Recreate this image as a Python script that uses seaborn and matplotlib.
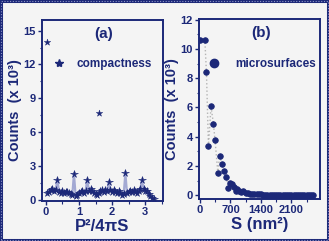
import numpy as np
import pandas as pd
import matplotlib
matplotlib.use("Agg")
import matplotlib.pyplot as plt
import seaborn as sns
from matplotlib.lines import Line2D
from matplotlib.patches import Rectangle
from matplotlib.ticker import AutoMinorLocator

# ---------------- data ----------------
# panel (a): compactness distribution (counts x 10^3)
comp_x = [0.05, 0.10, 0.15, 0.20, 0.25, 0.30, 0.35, 0.40, 0.45, 0.50,
          0.55, 0.60, 0.65, 0.70, 0.75, 0.80, 0.85, 0.90, 0.95, 1.00,
          1.05, 1.10, 1.15, 1.20, 1.25, 1.30, 1.35, 1.40, 1.45, 1.50,
          1.55, 1.60, 1.65, 1.70, 1.75, 1.80, 1.85, 1.90, 1.95, 2.00,
          2.05, 2.10, 2.15, 2.20, 2.25, 2.30, 2.35, 2.40, 2.45, 2.50,
          2.55, 2.60, 2.65, 2.70, 2.75, 2.80, 2.85, 2.90, 2.95, 3.00,
          3.05, 3.10, 3.15, 3.20, 3.25]
comp_y = [0.55, 0.70, 0.85, 0.95, 0.75, 0.90, 1.75, 0.70, 0.60, 0.75,
          0.60, 0.65, 0.70, 0.55, 0.50, 0.40, 2.30, 0.35, 0.45, 0.55,
          0.65, 0.80, 0.60, 0.75, 1.75, 0.80, 0.95, 0.75, 0.60, 0.50,
          0.40, 0.60, 0.75, 0.85, 0.70, 0.90, 0.80, 1.55, 0.85, 0.70,
          0.90, 0.70, 0.55, 0.75, 0.55, 0.40, 0.50, 2.35, 0.55, 0.65,
          0.80, 0.65, 0.85, 0.65, 0.60, 0.80, 0.95, 1.70, 0.95, 0.80,
          0.75, 0.50, 0.30, 0.15, 0.05]
comp_out_x = [0.04, 1.60]
comp_out_y = [14.0, 7.7]

# panel (b): microsurface distribution (counts x 10^3)
surf_x = [0, 113, 150, 196, 255, 309, 346, 413, 451, 512,
          564, 609, 648, 700, 740, 780, 820, 860, 900, 950,
          1000, 1050, 1100, 1150, 1200, 1250, 1300, 1350, 1400, 1450,
          1500, 1550, 1600, 1650, 1700, 1750, 1800, 1850, 1900, 1950,
          2000, 2050, 2100, 2150, 2200, 2250, 2300, 2350, 2400, 2450,
          2500, 2550, 2600]
surf_y = [10.6, 10.6, 8.4, 3.35, 6.07, 4.9, 3.8, 1.5, 2.7, 2.1,
          1.63, 1.25, 0.5, 0.85, 0.75, 0.55, 0.3, 0.45, 0.3, 0.2,
          0.25, 0.15, 0.12, 0.1, 0.08, 0.07, 0.06, 0.05, 0.05, 0.04,
          0.04, 0.03, 0.03, 0.03, 0.03, 0.02, 0.02, 0.02, 0.02, 0.02,
          0.02, 0.02, 0.02, 0.02, 0.02, 0.02, 0.02, 0.02, 0.02, 0.02,
          0.02, 0.02, 0.02]

a_yticks = [0, 3, 6, 9, 12, 15]
a_xticks = [0, 1, 2, 3]
b_yticks = [0, 2, 4, 6, 8, 10, 12]
b_xticks = [0, 700, 1400, 2100]

# ---------------- style ----------------
sns.set_theme(style="ticks")
plt.rcParams["font.family"] = ["Liberation Sans", "DejaVu Sans"]
plt.rcParams["font.weight"] = "bold"

navy = "#1c2878"
bg = "#f4f4f4"
line_a = "#a3a9d3"
line_b = "#b4b4b4"

fig = plt.figure(figsize=(3.29, 2.41), dpi=100, facecolor=bg)
ax1 = fig.add_axes([0.128, 0.166, 0.367, 0.751])
ax2 = fig.add_axes([0.605, 0.174, 0.368, 0.747])

df_a = pd.DataFrame({"x": comp_x, "y": comp_y})
df_ao = pd.DataFrame({"x": comp_out_x, "y": comp_out_y})
df_b = pd.DataFrame({"x": surf_x, "y": surf_y})

# panel (a)
sns.lineplot(data=df_a, x="x", y="y", ax=ax1, color=line_a, lw=1.6,
             sort=False, marker="*", markersize=5.5,
             markerfacecolor=navy, markeredgecolor=navy, markeredgewidth=0.4)
sns.scatterplot(data=df_ao, x="x", y="y", ax=ax1, marker="*", s=24,
                color=navy, edgecolor=navy, linewidth=0.3)
ax1.set_xlim(-0.11, 3.53)
ax1.set_ylim(-0.12, 15.95)
ax1.set_yticks(a_yticks)
ax1.set_xticks(a_xticks)
ax1.set_xlabel("P²/4πS", fontsize=12, fontweight="bold", color=navy, labelpad=1)
ax1.set_ylabel("Counts  (x 10³)", fontsize=10.5, fontweight="bold", color=navy, labelpad=1)
ax1.text(0.51, 0.925, "(a)", transform=ax1.transAxes, ha="center", va="center",
         fontsize=11, fontweight="bold", color=navy)
h1 = Line2D([], [], marker="*", ls="none", color=navy, markersize=6)
ax1.legend(handles=[h1], labels=["compactness"], loc="center left",
           bbox_to_anchor=(0.09, 0.757), frameon=False, borderpad=0,
           borderaxespad=0, handlelength=1.0, handletextpad=1.0,
           prop={"size": 8.5, "weight": "bold"}, labelcolor=navy)

# panel (b)
sns.lineplot(data=df_b, x="x", y="y", ax=ax2, color=line_b, lw=1.0, ls=":",
             sort=False)
sns.scatterplot(data=df_b, x="x", y="y", ax=ax2, marker="o", s=16,
                color=navy, edgecolor=navy, linewidth=0.6, zorder=3)
ax2.set_xlim(-20, 2760)
ax2.set_ylim(-0.27, 12.05)
ax2.set_yticks(b_yticks)
ax2.set_xticks(b_xticks)
ax2.set_xlabel("S (nm²)", fontsize=12, fontweight="bold", color=navy, labelpad=1)
ax2.set_ylabel("Counts  (x 10³)", fontsize=10.5, fontweight="bold", color=navy, labelpad=1)
ax2.text(0.51, 0.925, "(b)", transform=ax2.transAxes, ha="center", va="center",
         fontsize=11, fontweight="bold", color=navy)
h2 = Line2D([], [], marker="o", ls="none", color=navy, markersize=6)
ax2.legend(handles=[h2], labels=["microsurfaces"], loc="center left",
           bbox_to_anchor=(0.073, 0.75), frameon=False, borderpad=0,
           borderaxespad=0, handlelength=1.0, handletextpad=1.3,
           prop={"size": 8.5, "weight": "bold"}, labelcolor=navy)

for ax in (ax1, ax2):
    ax.set_facecolor(bg)
    for sp in ax.spines.values():
        sp.set_visible(True)
        sp.set_color(navy)
        sp.set_linewidth(1.4)
    ax.xaxis.set_minor_locator(AutoMinorLocator(2))
    ax.yaxis.set_minor_locator(AutoMinorLocator(2))
    ax.tick_params(which="major", direction="out", length=3, width=1.0,
                   color=navy, labelcolor=navy, labelsize=8, pad=1.5)
    ax.tick_params(which="minor", direction="out", length=1.8, width=0.8,
                   color=navy)
    for lab in ax.get_xticklabels() + ax.get_yticklabels():
        lab.set_fontweight("bold")

# figure border
fig.patches.append(Rectangle((0.004, 0.006), 0.992, 0.988, transform=fig.transFigure,
                             fill=False, edgecolor=navy, lw=2.2))
fig.patches.append(Rectangle((0.004, 0.006), 0.992, 0.988, transform=fig.transFigure,
                             fill=False, edgecolor="#8f96c8", lw=0.8, ls=(0, (1, 1.5))))

fig.savefig("out.png", dpi=100, facecolor=bg)
